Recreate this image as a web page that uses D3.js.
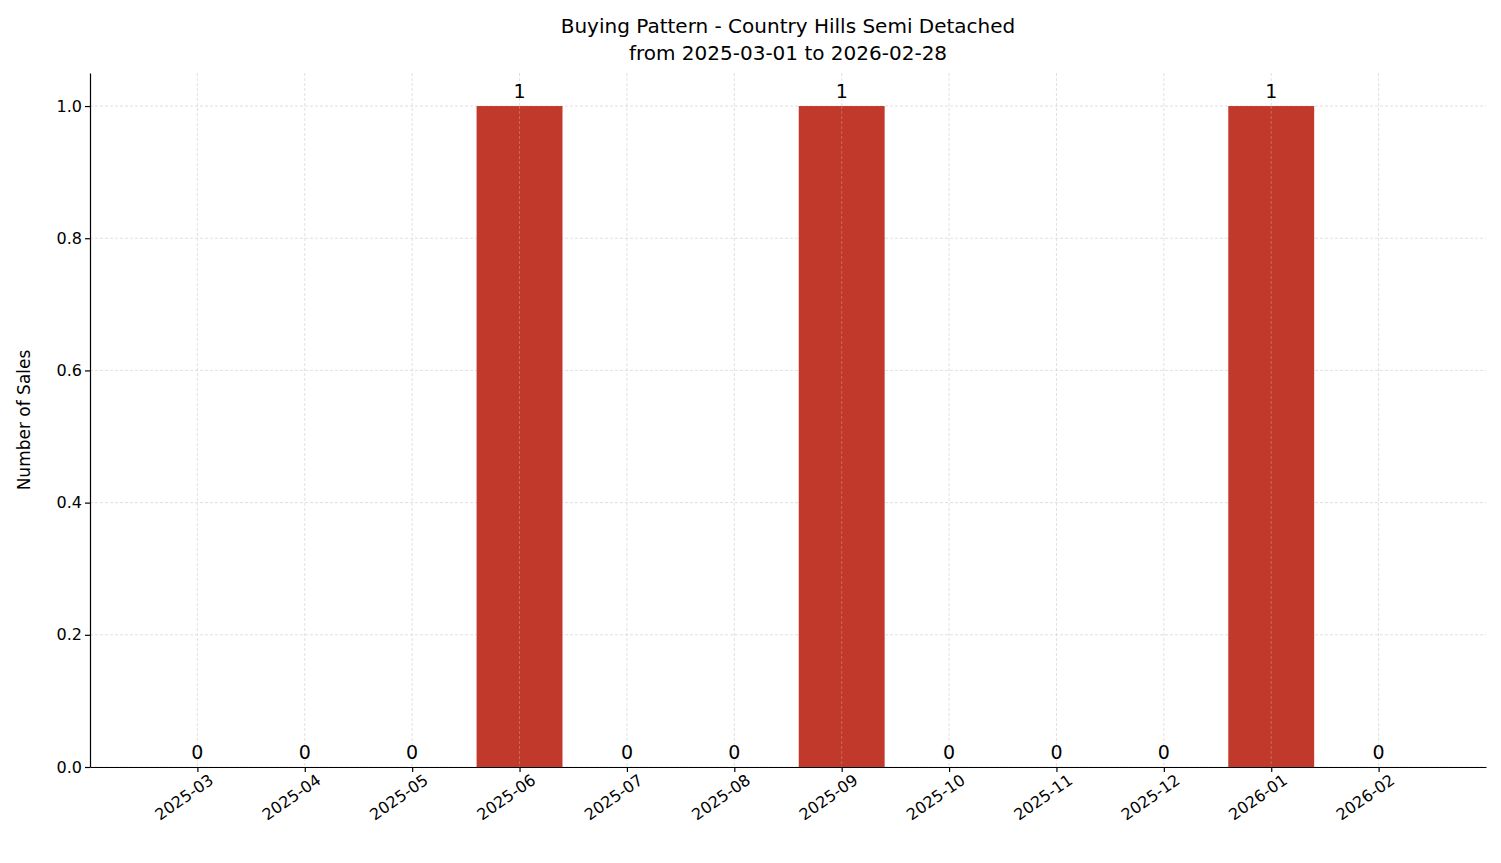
<!DOCTYPE html>
<html><head><meta charset="utf-8">
<script src="https://cdn.jsdelivr.net/npm/d3@7"></script>
<style>body{margin:0;background:#fff;font-family:"DejaVu Sans",sans-serif}</style>
</head><body><svg id="chart" width="1501" height="863"></svg>
<script>
const months = ["2025-03","2025-04","2025-05","2025-06","2025-07","2025-08","2025-09","2025-10","2025-11","2025-12","2026-01","2026-02"];
const sales = [0,0,0,1,0,0,1,0,0,0,1,0];
const yTicks = [0,0.2,0.4,0.6,0.8,1.0];

const svg = d3.select("#chart");
const m = {left:90, right:1486, top:73, bottom:767};

const x = d3.scaleLinear().domain([-1, 12]).range([m.left, m.right]);
const y = d3.scaleLinear().domain([0, 1.05]).range([m.bottom, m.top]);
const bw = (x(1) - x(0)) * 0.8;

// grid
const g = svg.append("g").attr("stroke","#d3d3d3").attr("stroke-dasharray","3,2").attr("stroke-width",0.7);
months.forEach((d,i)=>g.append("line").attr("x1",x(i)).attr("x2",x(i)).attr("y1",m.top).attr("y2",m.bottom));
yTicks.forEach(t=>g.append("line").attr("x1",m.left).attr("x2",m.right).attr("y1",y(t)).attr("y2",y(t)));

// bars
svg.selectAll("rect.bar").data(sales).enter().append("rect")
  .attr("x",(d,i)=>x(i)-bw/2).attr("width",bw)
  .attr("y",d=>y(d)).attr("height",d=>y(0)-y(d))
  .attr("fill","#c0392b");

// grid over bars (matplotlib draws grid on top here)
const g2 = svg.append("g").attr("stroke","#e0e0e0").attr("stroke-dasharray","3,2").attr("stroke-width",0.6).attr("opacity",0.5);
months.forEach((d,i)=>{ if(sales[i]>0) g2.append("line").attr("x1",x(i)).attr("x2",x(i)).attr("y1",y(sales[i])).attr("y2",m.bottom); });

// value labels
svg.selectAll("text.val").data(sales).enter().append("text")
  .attr("x",(d,i)=>x(i)).attr("y",d=>y(d)-8)
  .attr("text-anchor","middle").attr("font-size",19).text(d=>d);

// axes
const xAxis = svg.append("g").attr("transform",`translate(0,${m.bottom})`)
  .call(d3.axisBottom(x).tickValues(d3.range(months.length)).tickFormat(i=>months[i]).tickSize(5).tickSizeOuter(0));
xAxis.selectAll("text").attr("font-size",16).attr("fill","#000")
  .attr("text-anchor","end").attr("dx","0.3em").attr("dy","0.9em")
  .attr("transform","rotate(-35)");
const yAxis = svg.append("g").attr("transform",`translate(${m.left},0)`)
  .call(d3.axisLeft(y).tickValues(yTicks).tickFormat(d3.format(".1f")).tickSize(5).tickSizeOuter(0));
yAxis.selectAll("text").attr("font-size",16).attr("fill","#000");
[xAxis,yAxis].forEach(a=>{a.selectAll("line,path").attr("stroke","#000").attr("stroke-width",1.2);a.attr("font-family","DejaVu Sans")});

svg.append("text").attr("transform",`translate(30,${(m.top+m.bottom)/2}) rotate(-90)`)
  .attr("text-anchor","middle").attr("font-size",17).text("Number of Sales");
svg.append("text").attr("x",(m.left+m.right)/2).attr("y",33).attr("text-anchor","middle").attr("font-size",20).text("Buying Pattern - Country Hills Semi Detached");
svg.append("text").attr("x",(m.left+m.right)/2).attr("y",60).attr("text-anchor","middle").attr("font-size",20).text("from 2025-03-01 to 2026-02-28");
</script></body></html>
